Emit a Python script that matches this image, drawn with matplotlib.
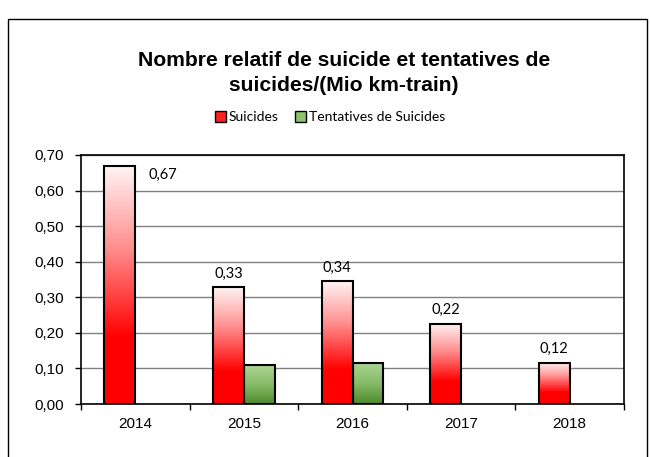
import numpy as np
import matplotlib.pyplot as plt
from matplotlib.colors import LinearSegmentedColormap
from matplotlib.patches import Patch, Rectangle

# chart data
years = ['2014', '2015', '2016', '2017', '2018']
suicides = [0.668, 0.328, 0.345, 0.226, 0.116]
tentatives = [0, 0.109, 0.116, 0, 0]
suicide_labels = ['0,67', '0,33', '0,34', '0,22', '0,12']
title = 'Nombre relatif de suicide et tentatives de\nsuicides/(Mio km-train)'

red_cmap = LinearSegmentedColormap.from_list(
    'red', [(0, '#ff0000'), (0.28, '#ff0000'), (0.65, '#ff8c8c'), (1, '#fff4f4')])
green_cmap = LinearSegmentedColormap.from_list(
    'green', [(0, '#4e8a2c'), (0.5, '#86bb68'), (1, '#aed595')])

fig = plt.figure(figsize=(6.51, 4.57), dpi=100)
# outer chart border
fig.patches.append(Rectangle((8 / 651, -0.05), 639 / 651, 1 - 19 / 457 + 0.05,
                             transform=fig.transFigure, fill=False,
                             edgecolor='black', linewidth=1))

ax = fig.add_axes([81 / 651, 1 - 404 / 457, 543 / 651, 249 / 457])

x = np.arange(len(years))
w = 0.285


def gradient_bars(xs, vals, cmap, offset):
    bars = ax.bar(xs + offset, vals, width=w, fill=False, edgecolor='black',
                  linewidth=1.5, zorder=4)
    grad = np.linspace(0, 1, 256).reshape(-1, 1)
    for b in bars:
        h = b.get_height()
        if h <= 0:
            b.set_visible(False)  # empty values: nothing drawn
            continue
        x0 = b.get_x()
        ax.imshow(grad, cmap=cmap, origin='lower', aspect='auto', zorder=3,
                  extent=[x0, x0 + b.get_width(), 0, h])
    return bars


sb = gradient_bars(x, suicides, red_cmap, -w / 2)
tb = gradient_bars(x, tentatives, green_cmap, w / 2)

for i, b in enumerate(sb):
    cx = b.get_x() + b.get_width() / 2
    h = b.get_height()
    if i == 0:
        ax.text(b.get_x() + b.get_width() + 0.12, h - 0.005, suicide_labels[i],
                ha='left', va='top', fontsize=10.5, family='Lato')
    else:
        ax.text(cx, h + 0.018, suicide_labels[i], ha='center', va='bottom',
                fontsize=10.5, family='Lato')

ax.set_xlim(-0.5, len(years) - 0.5)
ax.set_ylim(0, 0.70)
ax.set_yticks(np.arange(0, 0.71, 0.1))
ax.set_yticklabels([f'{v:.2f}'.replace('.', ',') for v in np.arange(0, 0.71, 0.1)],
                   family='Liberation Sans', fontsize=11)
ax.set_xticks(x)
ax.set_xticklabels(years, family='Liberation Sans', fontsize=11)
ax.set_xticks(np.arange(-0.5, len(years), 1), minor=True)
ax.tick_params(axis='x', which='major', length=0, pad=9)
ax.tick_params(axis='x', which='minor', length=4, width=1)
ax.tick_params(axis='y', length=4, width=1, pad=8)
ax.yaxis.grid(True, color='#808080', linewidth=1)
ax.set_axisbelow(True)
for s in ax.spines.values():
    s.set_linewidth(1.2)

fig.text(344 / 651, 1 - 73 / 457, title, ha='center', va='center',
         fontsize=15.2, fontweight='bold', family='Liberation Sans',
         linespacing=1.38)

handles = [Patch(facecolor='#ff2020', edgecolor='black', linewidth=1),
           Patch(facecolor='#8cc46c', edgecolor='black', linewidth=1)]
fig.legend(handles, ['Suicides', 'Tentatives de Suicides'], loc='center',
           bbox_to_anchor=(330 / 651, 1 - 117 / 457), ncol=2, frameon=False,
           prop={'family': 'Lato', 'size': 10}, handlelength=0.8,
           handleheight=0.8, handletextpad=0.2, columnspacing=1.2)

fig.savefig('out.png', dpi=100)
